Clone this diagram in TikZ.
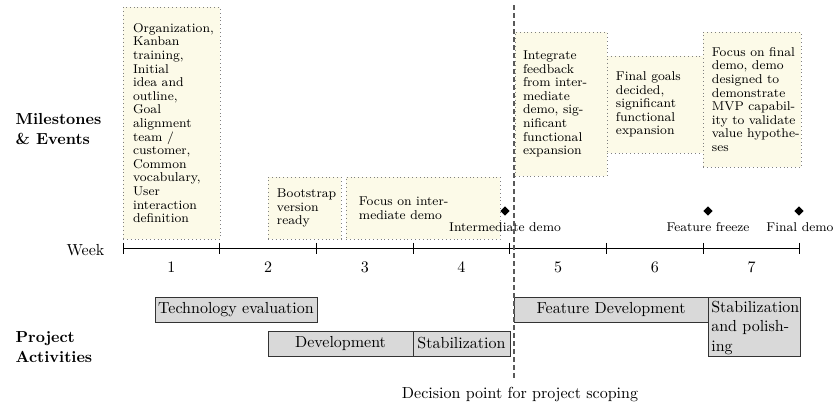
\documentclass[tikz,border=0pt]{standalone}
\usetikzlibrary{shapes.geometric}
\definecolor{msfill}{RGB}{252,250,232}
\definecolor{actfill}{RGB}{217,217,217}
\begin{document}
\begin{tikzpicture}[x=0.625pt,y=-0.625pt,
  msbox/.style={draw=gray, dotted, fill=msfill, inner sep=0pt},
  mstext/.style={align=left, anchor=west, inner sep=0pt,
    font=\fontsize{8}{8.5}\selectfont},
  act/.style={draw=black!80, fill=actfill, inner sep=0pt, font=\normalsize},
  evt/.style={diamond, fill=black, inner sep=0pt, minimum size=6pt},
  evtlbl/.style={font=\footnotesize},
  lane/.style={font=\normalsize\bfseries, align=left, anchor=west},
  decision/.style={dash pattern=on 3pt off 2pt, thick, black!65}]
\useasboundingbox (0,0) rectangle (836,409);

% lane labels
\node[lane] (lm) at (10,129) {Milestones\\\& Events};
\node[lane] (lp) at (10,347) {Project\\Activities};

% axis
\coordinate (a0) at (123,248.5);
\coordinate (a7) at (800,248.5);
\draw[thick] (a0) -- (a7);
\node[anchor=east] (week) at (110,250) {Week};
\foreach \i in {0,...,7} {
  \coordinate (t\i) at ({123+96.7*\i},248.5);
  \draw[semithick] ([yshift=3.5pt]t\i) -- ([yshift=-3.5pt]t\i);
}
\foreach \i in {1,...,7} {
  \node (w\i) at ({123+96.7*(\i-0.5)},267) {\i};
}

% milestone boxes
\node[msbox, minimum width=60.6pt, minimum height=145pt] (m1) at (171.5,123) {};
\node[mstext] (m1t) at ([xshift=6.25pt]m1.west)
 {Organization,\\Kanban\\training,\\Initial\\idea and\\outline,\\Goal\\alignment\\team /\\customer,\\Common\\vocabulary,\\User\\interaction\\definition};
\node[msbox, minimum width=45.6pt, minimum height=38.75pt] (m2) at (304.5,208) {};
\node[mstext] (m2t) at ([xshift=5.6pt]m2.west) {Bootstrap\\version\\ready};
\node[msbox, minimum width=96.25pt, minimum height=38.75pt] (m3) at (423,208) {};
\node[mstext] (m3t) at ([xshift=8.1pt]m3.west) {Focus on inter-\\mediate demo};
\node[msbox, minimum width=57.5pt, minimum height=90pt] (m4) at (561,104) {};
\node[mstext] (m4t) at ([xshift=5pt]m4.west)
 {Integrate\\feedback\\from inter-\\mediate\\demo, sig-\\nificant\\functional\\expansion};
\node[msbox, minimum width=60pt, minimum height=60.6pt] (m5) at (655,104.5) {};
\node[mstext] (m5t) at ([xshift=5.6pt]m5.west)
 {Final goals\\decided,\\significant\\functional\\expansion};
\node[msbox, minimum width=61.25pt, minimum height=84.4pt] (m6) at (752,99.5) {};
\node[mstext] (m6t) at ([xshift=5.6pt]m6.west)
 {Focus on final\\demo, demo\\designed to\\demonstrate\\MVP capabil-\\ity to validate\\value hypothe-\\ses};

% events
\node[evt] (e1) at (505,211) {};
\node[evt] (e2) at (708,211) {};
\node[evt] (e3) at (799,211) {};
\node[evtlbl] (l1) at (505,227) {Intermediate demo};
\node[evtlbl] (l2) at (708,227) {Feature freeze};
\node[evtlbl] (l3) at (800,227) {Final demo};

% activities
\node[act, minimum width=101.25pt, minimum height=15.6pt] (p1) at (236,309.5) {Technology evaluation};
\node[act, minimum width=90.6pt, minimum height=15.6pt] (p2) at (340.5,343.5) {Development};
\node[act, minimum width=60.6pt, minimum height=15.6pt] (p3) at (461.5,343.5) {Stabilization};
\node[act, minimum width=121.25pt, minimum height=15.6pt] (p4) at (611,309.5) {Feature Development};
\node[act, minimum width=57.5pt, minimum height=36.9pt] (p5) at (754,326.5) {};
\node[anchor=north west, align=left, inner sep=0pt, font=\normalsize] (p5t) at (711,301)
 {Stabilization\\and polish-\\ing};

% decision line
\coordinate (d0) at (514,5);
\coordinate (d1) at (514,378);
\draw[decision] (d0) -- (d1);
\node (dl) at (520,395) {Decision point for project scoping};
\end{tikzpicture}
\end{document}
